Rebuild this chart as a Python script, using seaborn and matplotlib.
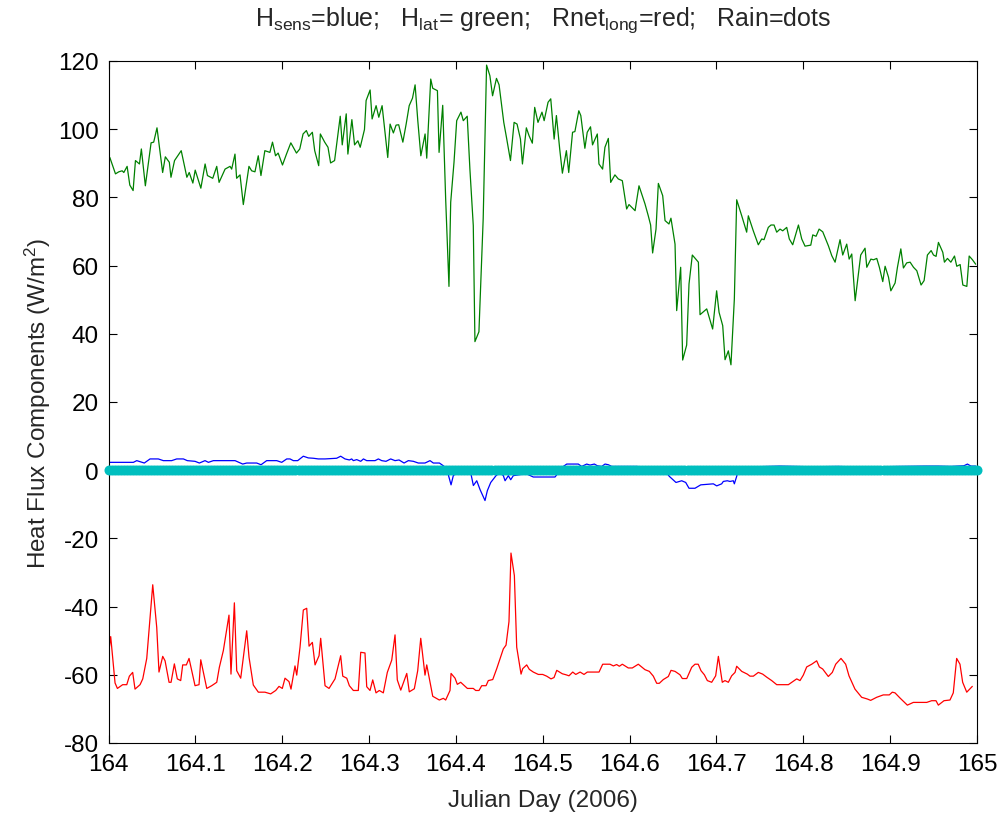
import numpy as np
import matplotlib
matplotlib.use("Agg")
import matplotlib.pyplot as plt
import seaborn as sns

# latent heat flux (green)
lat_day = [164.0015, 164.008, 164.0118, 164.0157, 164.0176, 164.0214, 164.0245, 164.0283, 164.031, 164.0356,
           164.0378, 164.0424, 164.049, 164.052, 164.0558, 164.0623, 164.0654, 164.07, 164.0719, 164.076,
           164.0837, 164.0902, 164.0929, 164.0971, 164.0998, 164.1063, 164.1112, 164.1139, 164.12, 164.1246,
           164.1273, 164.1342, 164.1399, 164.1418, 164.1456, 164.1475, 164.1514, 164.1552, 164.1617, 164.1648,
           164.1686, 164.1724, 164.1755, 164.18, 164.1858, 164.1888, 164.1923, 164.1953, 164.2003, 164.2049,
           164.2099, 164.2164, 164.2202, 164.224, 164.2278, 164.2305, 164.2347, 164.2374, 164.242, 164.2439,
           164.2489, 164.2527, 164.2557, 164.2603, 164.2668, 164.2691, 164.2737, 164.2756, 164.2802, 164.2833,
           164.2871, 164.2898, 164.2947, 164.2966, 164.3012, 164.3035, 164.3081, 164.3112, 164.315, 164.3215,
           164.3242, 164.328, 164.3311, 164.3341, 164.3389, 164.3427, 164.3462, 164.35, 164.353, 164.3561,
           164.3596, 164.3645, 164.3664, 164.371, 164.3733, 164.3787, 164.3806, 164.3848, 164.3882, 164.392,
           164.394, 164.3978, 164.4009, 164.4058, 164.4085, 164.413, 164.4161, 164.42, 164.4219, 164.4265,
           164.4314, 164.4353, 164.4391, 164.4422, 164.4467, 164.4497, 164.4551, 164.4582, 164.4628, 164.467,
           164.4704, 164.4743, 164.4766, 164.4811, 164.4842, 164.488, 164.4907, 164.4945, 164.4991, 164.5016,
           164.5061, 164.5092, 164.5131, 164.5157, 164.5195, 164.5226, 164.5272, 164.5299, 164.5343, 164.537,
           164.5415, 164.5438, 164.5485, 164.5512, 164.555, 164.5573, 164.5628, 164.5647, 164.5689, 164.5716,
           164.5755, 164.5782, 164.5831, 164.587, 164.5916, 164.5966, 164.5993, 164.6063, 164.6108, 164.6177,
           164.6215, 164.6242, 164.6265, 164.6304, 164.6331, 164.6381, 164.6408, 164.6453, 164.6476, 164.6523,
           164.6542, 164.6588, 164.6611, 164.6657, 164.6684, 164.6722, 164.6792, 164.6811, 164.6888, 164.6956,
           164.7002, 164.703, 164.7072, 164.7099, 164.7137, 164.7167, 164.7206, 164.7233, 164.7291, 164.7348,
           164.7367, 164.7424, 164.7482, 164.7521, 164.7548, 164.7597, 164.7628, 164.7663, 164.7694, 164.7732,
           164.7763, 164.7809, 164.7839, 164.7878, 164.7944, 164.7982, 164.802, 164.8086, 164.8109, 164.8147,
           164.8182, 164.8224, 164.8289, 164.8328, 164.8366, 164.8423, 164.8454, 164.85, 164.8528, 164.8558,
           164.8597, 164.8661, 164.8711, 164.8731, 164.8778, 164.8808, 164.8846, 164.8876, 164.8915, 164.8942,
           164.8981, 164.9008, 164.9057, 164.9084, 164.9123, 164.9153, 164.9191, 164.923, 164.9269, 164.9307,
           164.9356, 164.9391, 164.9429, 164.9472, 164.9499, 164.9529, 164.9556, 164.9606, 164.9625, 164.966,
           164.9699, 164.9741, 164.9767, 164.9806, 164.9837, 164.9883, 164.991, 164.9948, 164.9985]
lat_flux = [91.7, 86.9, 87.5, 87.8, 87.3, 89.1, 83.6, 82.0, 90.8, 89.8,
            94.2, 83.4, 96.0, 96.2, 100.4, 87.3, 91.9, 90.3, 85.9, 90.8,
            93.7, 85.9, 87.3, 84.2, 88.0, 82.7, 89.8, 86.4, 85.6, 89.1,
            84.4, 88.3, 89.1, 88.3, 92.7, 85.6, 86.6, 77.9, 89.1, 87.8,
            87.5, 92.2, 86.4, 93.7, 93.2, 96.2, 92.2, 93.0, 89.5, 92.7,
            96.0, 93.0, 94.2, 98.6, 99.6, 97.9, 99.1, 93.7, 89.3, 98.6,
            96.2, 94.7, 90.1, 90.8, 103.8, 95.4, 104.5, 92.7, 102.8, 95.4,
            96.6, 94.7, 99.9, 108.4, 111.5, 103.0, 106.9, 103.5, 106.9, 91.7,
            101.5, 98.9, 101.2, 101.3, 96.2, 101.5, 106.9, 109.1, 113.0, 102.5,
            92.2, 98.6, 91.5, 114.7, 112.0, 111.3, 93.2, 107.0, 79.5, 53.9,
            78.6, 90.3, 102.5, 105.0, 102.5, 103.8, 88.3, 71.7, 37.7, 40.6,
            73.7, 118.8, 115.7, 109.8, 114.9, 113.0, 102.0, 97.6, 90.8, 102.0,
            101.5, 97.1, 89.8, 100.4, 98.1, 95.9, 106.4, 102.0, 105.0, 102.5,
            107.9, 108.9, 97.1, 104.0, 94.2, 87.1, 93.7, 87.3, 99.1, 99.3,
            105.4, 104.0, 94.4, 99.1, 100.7, 95.4, 98.6, 89.8, 88.3, 94.7,
            97.3, 84.4, 86.6, 85.4, 84.9, 76.6, 77.9, 76.1, 83.4, 78.1,
            74.6, 71.9, 63.7, 70.7, 84.1, 80.5, 73.2, 72.2, 73.9, 66.3,
            46.8, 59.5, 32.3, 36.7, 54.6, 63.1, 61.0, 45.6, 47.3, 41.4,
            52.6, 46.3, 42.4, 32.4, 35.0, 30.9, 50.2, 79.3, 74.6, 69.8,
            74.6, 70.2, 66.1, 67.8, 67.6, 71.2, 71.9, 71.9, 69.8, 70.7,
            70.2, 71.2, 67.8, 66.1, 71.9, 67.8, 65.7, 66.0, 69.0, 68.6,
            70.7, 69.9, 65.8, 62.9, 61.0, 67.6, 63.1, 66.3, 61.9, 63.4,
            49.7, 63.1, 65.1, 59.5, 61.9, 61.7, 62.1, 59.5, 55.3, 59.8,
            56.6, 52.6, 54.9, 59.5, 64.9, 59.3, 60.8, 61.0, 59.5, 58.5,
            54.3, 55.6, 63.1, 64.4, 63.1, 62.7, 66.8, 63.9, 61.0, 62.1,
            61.0, 62.8, 59.8, 60.3, 54.3, 53.9, 62.8, 61.7, 60.4]

# net longwave radiation (red)
lw_day = [164.0, 164.0025, 164.0075, 164.0102, 164.0163, 164.021, 164.024, 164.0278, 164.0305, 164.0363,
          164.0394, 164.044, 164.0509, 164.0555, 164.0581, 164.0624, 164.0651, 164.0697, 164.072, 164.0758,
          164.0792, 164.0831, 164.0854, 164.0896, 164.0927, 164.0996, 164.1042, 164.1062, 164.1131, 164.1188,
          164.1246, 164.1276, 164.1322, 164.1387, 164.141, 164.1449, 164.1476, 164.1522, 164.1591, 164.1618,
          164.1667, 164.1725, 164.1801, 164.1867, 164.1925, 164.1963, 164.2001, 164.2032, 164.2078, 164.2101,
          164.2147, 164.2167, 164.2205, 164.2243, 164.2282, 164.2309, 164.2347, 164.2378, 164.2424, 164.2443,
          164.2493, 164.2539, 164.2608, 164.2673, 164.2697, 164.2743, 164.2773, 164.2819, 164.2876, 164.2904,
          164.2953, 164.2973, 164.3011, 164.3042, 164.308, 164.3118, 164.3164, 164.321, 164.3261, 164.3299,
          164.3325, 164.3365, 164.3434, 164.3463, 164.3521, 164.356, 164.3595, 164.3644, 164.3664, 164.3733,
          164.3809, 164.3855, 164.3882, 164.3932, 164.3944, 164.399, 164.4016, 164.4055, 164.4132, 164.42,
          164.4228, 164.4266, 164.4297, 164.4347, 164.4373, 164.4424, 164.447, 164.4546, 164.4577, 164.4611,
          164.4634, 164.4673, 164.47, 164.475, 164.4769, 164.4815, 164.4845, 164.4891, 164.4949, 164.4999,
          164.5045, 164.5095, 164.513, 164.5161, 164.5225, 164.5268, 164.5302, 164.5345, 164.538, 164.543,
          164.5475, 164.5513, 164.5648, 164.569, 164.5774, 164.5813, 164.5851, 164.5882, 164.5916, 164.5985,
          164.6031, 164.61, 164.6177, 164.6227, 164.6273, 164.6312, 164.6342, 164.6388, 164.6446, 164.6477,
          164.6523, 164.658, 164.6607, 164.6658, 164.6715, 164.6753, 164.679, 164.6822, 164.6861, 164.6895,
          164.6945, 164.6991, 164.7022, 164.7067, 164.7098, 164.7137, 164.7175, 164.7214, 164.7233, 164.7291,
          164.7355, 164.7386, 164.7425, 164.7482, 164.7532, 164.7579, 164.7636, 164.7694, 164.7828, 164.7878,
          164.7924, 164.7962, 164.8, 164.8039, 164.8097, 164.8154, 164.8185, 164.8223, 164.8288, 164.8334,
          164.8373, 164.8434, 164.8488, 164.8526, 164.8595, 164.8672, 164.8737, 164.8776, 164.8845, 164.8921,
          164.899, 164.9025, 164.9056, 164.9113, 164.9198, 164.9267, 164.9421, 164.9478, 164.9528, 164.9555,
          164.962, 164.9689, 164.9727, 164.9766, 164.9804, 164.9835, 164.9882, 164.9946]
lw_flux = [-53.9, -48.8, -62.4, -64.0, -62.9, -62.9, -60.4, -59.3, -64.2, -62.9,
           -61.2, -55.2, -33.6, -46.1, -59.2, -54.6, -55.9, -62.2, -62.2, -56.8,
           -61.2, -61.7, -57.1, -57.1, -55.2, -63.2, -62.9, -55.6, -64.0, -63.2,
           -62.2, -57.8, -52.9, -42.5, -59.8, -38.9, -58.8, -61.0, -47.1, -54.9,
           -63.0, -65.1, -65.1, -65.6, -64.6, -63.4, -64.0, -61.0, -62.0, -64.2,
           -57.4, -60.1, -51.9, -41.0, -40.5, -51.6, -50.5, -57.1, -54.4, -49.3,
           -63.2, -64.0, -61.2, -54.4, -60.4, -61.0, -63.2, -64.6, -64.6, -53.4,
           -53.6, -63.5, -64.6, -61.5, -65.3, -64.6, -65.3, -59.3, -55.7, -48.3,
           -61.5, -64.5, -59.6, -65.0, -64.1, -58.8, -49.3, -60.1, -57.1, -66.3,
           -67.4, -66.9, -67.4, -64.6, -59.6, -61.0, -62.8, -62.2, -64.0, -64.0,
           -64.6, -64.6, -63.2, -63.2, -61.7, -61.4, -58.2, -52.4, -51.3, -44.4,
           -24.3, -30.9, -51.9, -59.8, -58.2, -57.1, -58.4, -59.2, -59.9, -59.9,
           -60.4, -61.2, -60.8, -58.7, -59.7, -60.0, -60.3, -59.2, -59.9, -59.2,
           -59.9, -59.2, -59.2, -56.9, -56.9, -57.4, -57.0, -57.5, -56.9, -58.0,
           -58.0, -56.9, -58.5, -59.0, -60.4, -62.5, -62.5, -61.4, -60.5, -58.7,
           -59.0, -60.0, -61.1, -61.1, -57.8, -56.9, -56.9, -58.8, -60.0, -61.7,
           -62.2, -60.3, -54.6, -62.2, -61.7, -62.2, -60.3, -59.3, -57.5, -59.0,
           -59.8, -60.4, -60.4, -59.3, -59.8, -60.7, -61.7, -62.9, -62.9, -62.0,
           -61.2, -61.7, -60.1, -57.7, -56.9, -55.9, -57.7, -58.3, -60.5, -59.3,
           -56.9, -55.2, -56.9, -60.3, -64.2, -66.6, -67.1, -67.5, -66.6, -65.9,
           -65.9, -65.1, -65.3, -66.8, -68.9, -68.1, -68.1, -67.6, -67.6, -68.9,
           -67.6, -67.4, -65.3, -55.2, -56.9, -62.2, -65.1, -63.4]

# sensible heat flux (blue)
sens_day = [164.001, 164.0286, 164.0325, 164.0412, 164.0478, 164.0573, 164.0631, 164.0727, 164.0785, 164.0862,
            164.0907, 164.0996, 164.1046, 164.1111, 164.115, 164.1207, 164.1457, 164.1545, 164.1591, 164.1706,
            164.1756, 164.1821, 164.1937, 164.1994, 164.2052, 164.209, 164.2128, 164.2178, 164.2243, 164.23,
            164.2358, 164.2416, 164.2493, 164.2627, 164.2673, 164.2723, 164.2773, 164.28, 164.2819, 164.2858,
            164.2904, 164.2935, 164.2973, 164.3069, 164.3107, 164.3146, 164.3195, 164.3249, 164.3299, 164.3345,
            164.3403, 164.3452, 164.351, 164.3567, 164.3644, 164.3702, 164.374, 164.381, 164.3855, 164.3894,
            164.3924, 164.3944, 164.397, 164.4067, 164.4105, 164.4174, 164.4201, 164.424, 164.4278, 164.4335,
            164.4362, 164.4401, 164.4462, 164.4508, 164.4546, 164.4566, 164.4604, 164.4631, 164.4661, 164.4738,
            164.4815, 164.4891, 164.5006, 164.5141, 164.5237, 164.5276, 164.5409, 164.5448, 164.5506, 164.5544,
            164.5594, 164.5629, 164.5679, 164.5717, 164.5755, 164.5794, 164.5909, 164.6024, 164.6082, 164.6388,
            164.6457, 164.6534, 164.66, 164.6646, 164.6684, 164.6753, 164.6819, 164.6964, 164.7003, 164.706,
            164.7079, 164.7125, 164.7156, 164.7194, 164.7206, 164.7233, 164.7253, 164.745, 164.773, 164.81,
            164.84, 164.87, 164.91, 164.94, 164.955, 164.97, 164.985, 164.989, 164.993, 164.9985]
sens_flux = [2.3, 2.3, 2.8, 2.1, 3.3, 3.3, 2.8, 2.8, 3.3, 3.3,
             2.8, 2.6, 2.1, 2.8, 2.3, 2.8, 2.8, 1.8, 2.1, 2.1,
             1.6, 2.8, 2.8, 2.3, 3.3, 3.3, 2.8, 2.8, 4.1, 3.6,
             3.5, 3.3, 3.3, 3.5, 4.1, 3.3, 3.0, 3.3, 2.8, 3.1,
             2.6, 3.3, 2.8, 2.8, 3.3, 2.8, 2.6, 3.3, 2.8, 3.0,
             2.1, 2.8, 2.6, 2.1, 2.1, 2.8, 2.1, 2.1, 1.3, 0.4,
             -2.4, -4.3, -1.6, 0.5, -0.1, -1.2, -4.5, -3.1, -5.7, -8.9,
             -6.0, -3.6, -1.6, -0.7, -1.6, -3.1, -1.6, -2.8, -1.6, -1.3,
             -1.1, -2.0, -2.0, -2.0, 1.1, 1.8, 1.8, 1.1, 1.8, 1.5,
             1.8, 1.3, 1.1, 1.8, 1.6, 1.1, 1.1, 1.1, 1.1, 0.4,
             -1.8, -3.6, -3.1, -3.6, -5.3, -5.3, -4.3, -4.0, -4.6, -4.0,
             -3.3, -3.1, -3.3, -3.1, -4.0, -1.8, 0.4, 1.0, 1.2, 1.0,
             1.1, 0.9, 1.1, 1.2, 1.2, 1.1, 1.3, 1.8, 1.2, 1.2]

# rain: 5-minute samples, no rain recorded all day
rain_day = 164 + np.arange(289) / 288
rain = np.zeros(len(rain_day))

x_ticks = [164, 164.1, 164.2, 164.3, 164.4, 164.5, 164.6, 164.7, 164.8, 164.9, 165]
x_tick_labels = ['164', '164.1', '164.2', '164.3', '164.4', '164.5', '164.6', '164.7', '164.8', '164.9', '165']
y_ticks = [-80, -60, -40, -20, 0, 20, 40, 60, 80, 100, 120]

sns.set_style('ticks')
plt.rcParams['font.family'] = ['Liberation Sans', 'DejaVu Sans']
plt.rcParams['mathtext.fontset'] = 'custom'
plt.rcParams['mathtext.rm'] = 'Liberation Sans'
plt.rcParams['axes.unicode_minus'] = False

fig = plt.figure(figsize=(10.04, 8.2), dpi=100)
ax = fig.add_axes([0.1081, 0.0927, 0.8650, 0.8317])

sns.lineplot(x=sens_day, y=sens_flux, ax=ax, color='#0000FF', linewidth=0.9, estimator=None, sort=False)
sns.lineplot(x=lat_day, y=lat_flux, ax=ax, color='#008000', linewidth=0.9, estimator=None, sort=False)
sns.lineplot(x=lw_day, y=lw_flux, ax=ax, color='#FF0000', linewidth=0.9, estimator=None, sort=False)
sns.scatterplot(x=rain_day, y=rain, ax=ax, color='#00BFBF', s=52, linewidth=0, clip_on=False, zorder=5)

ax.set_xlim(164, 165)
ax.set_ylim(-80, 120)
ax.set_xticks(x_ticks)
ax.set_xticklabels(x_tick_labels)
ax.set_yticks(y_ticks)
ax.tick_params(direction='in', length=6, width=0.8, labelsize=17.5, pad=7,
               top=True, right=True, colors='black')
for s in ax.spines.values():
    s.set_visible(True)
    s.set_linewidth(0.8)
    s.set_color('black')

ax.set_xlabel('Julian Day (2006)', fontsize=17.5, labelpad=10)
ax.set_ylabel(r'Heat Flux Components (W/m$\mathregular{^2}$)', fontsize=17.5, labelpad=4)
ax.set_title(r'$\mathregular{H_{sens}}$=blue;   $\mathregular{H_{lat}}$= green;   '
             r'$\mathregular{Rnet_{long}}$=red;   Rain=dots', fontsize=18, pad=26)

fig.savefig('out.png', dpi=100)
